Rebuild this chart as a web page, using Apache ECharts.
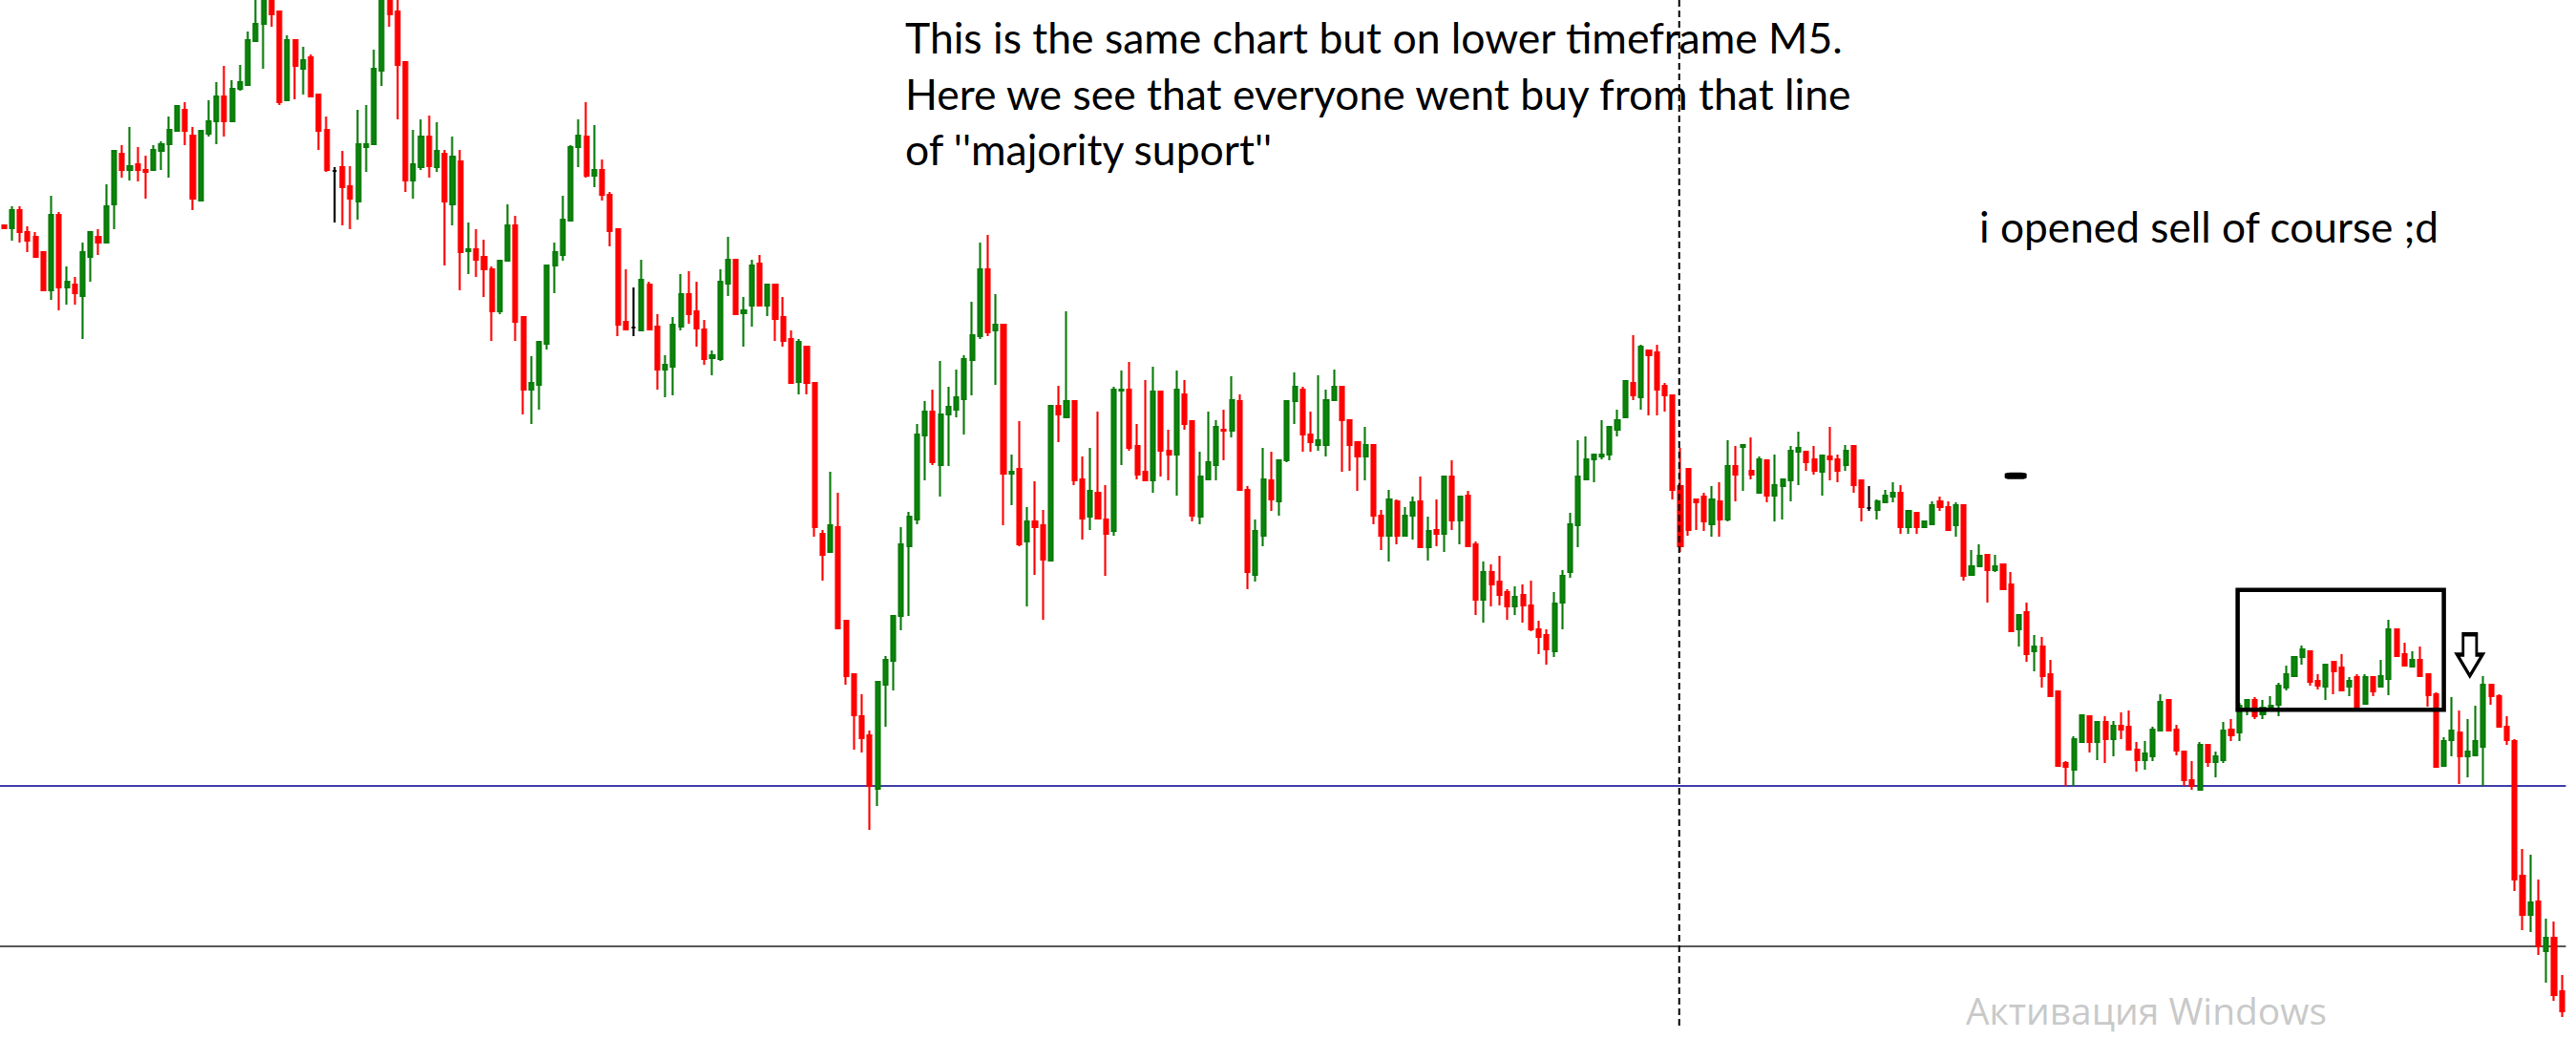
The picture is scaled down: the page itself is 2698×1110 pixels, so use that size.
<!DOCTYPE html>
<html>
<head>
<meta charset="utf-8">
<script src="https://cdn.jsdelivr.net/npm/echarts@6.0.0/dist/echarts.min.js"></script>
<style>
html,body{margin:0;padding:0;background:#ffffff;overflow:hidden}
#chart{width:2698px;height:1110px}
</style>
</head>
<body>
<div id="chart"></div>
<script>
// M5 candles: [open, close, low, high] in chart points
const ohlc = [
[874,871,870,875],[871,890,858,894],[890,867,856,894],[867,858,846,873],[862,841,840,867],[846,806,805,846],
[806,885,796,905],[885,809,785,888],[809,815,791,831],[812,803,791,820],[800,846,755,856],[841,867,815,868],
[862,856,843,870],[856,894,856,917],[896,952,870,952],[949,932,924,958],[932,936,921,977],[938,932,920,956],
[932,930,902,947],[932,953,932,958],[952,959,932,962],[959,974,924,988],[973,999,973,1000],[995,973,958,1003],
[968,902,890,977],[900,973,900,973],[970,983,967,1005],[983,1009,959,1024],[1009,983,967,1041],[983,1017,983,1026],
[1017,1024,1015,1042],[1021,1068,1021,1077],[1067,1085,1067,1112],[1085,1115,1038,1125],[1112,1095,1082,1118],[1098,1003,1000,1098],
[1005,1068,1005,1073],[1068,1041,1006,1068],[1038,1047,1011,1061],[1050,1009,1009,1053],[1011,973,953,1011],[974,932,930,988],
[931,931,877,935],[935,914,874,952],[915,902,870,936],[899,959,880,995],[956,959,930,1000],[959,1038,959,1058],
[1036,1115,1020,1130],[1114,1095,1082,1125],[1098,1042,985,1112],[1045,921,909,1045],[921,938,902,974],[935,967,932,985],
[967,936,924,989],[935,952,930,982],[949,899,832,953],[896,946,874,967],[941,846,806,953],[847,849,823,877],
[849,838,820,870],[841,828,799,859],[828,784,753,831],[784,837,781,838],[837,874,837,896],[874,773,753,884],
[778,702,676,778],[702,709,666,737],[707,752,681,753],[750,832,744,832],[832,846,803,856],[843,880,837,905],
[879,956,878,958],[956,968,935,985],[967,926,924,1003],[926,932,914,979],[932,906,900,943],[906,868,852,909],
[870,770,758,870],[773,765,765,828],[767,767,758,809],[764,817,764,838],[812,765,764,815],[768,723,702,781],
[723,728,694,738],[726,770,696,778],[768,802,764,823],[802,781,771,826],[784,766,747,815],[765,734,728,775],
[735,738,717,743],[734,815,732,828],[813,838,800,862],[838,781,781,838],[782,785,747,799],[790,832,768,838],
[834,790,790,843],[790,812,779,812],[812,776,753,812],[778,753,747,799],[755,709,709,764],[710,752,697,755],
[747,709,697,747],[709,558,548,709],[551,529,502,555],[532,560,532,616],[558,452,452,594],[460,402,393,460],
[404,361,325,404],[360,337,322,383],[340,287,241,345],[284,396,266,396],[393,419,349,423],[418,465,387,465],
[465,540,450,558],[538,569,465,574],[566,655,561,666],[654,679,607,690],[679,626,623,702],[623,676,590,732],
[676,684,622,705],[681,694,673,723],[692,734,655,738],[733,759,696,794],[758,828,755,856],[828,762,758,864],
[764,770,707,802],[770,614,560,770],[614,616,581,634],[619,540,538,669],[543,564,475,579],[564,558,508,606],
[560,524,461,576],[523,685,523,686],[685,676,647,706],[673,690,673,784],[690,607,602,690],[608,567,545,632],
[569,596,555,641],[594,567,567,679],[566,551,507,602],[554,702,549,705],[701,702,623,722],[702,641,638,731],
[643,613,608,666],[616,607,607,712],[607,700,594,726],[700,638,611,700],[638,634,607,660],[634,702,591,722],
[697,666,660,712],[669,570,564,669],[569,611,561,637],[608,626,607,679],[623,663,607,670],[660,659,628,681],
[659,691,652,716],[690,597,597,697],[597,511,493,601],[508,554,501,566],[549,608,538,641],[607,587,575,637],
[585,628,570,629],[628,690,626,691],[690,705,666,720],[702,655,637,705],[655,647,637,679],[644,649,638,717],
[644,691,632,702],[691,705,691,723],[705,670,616,705],[670,644,617,670],[647,632,596,647],[632,644,607,663],
[644,570,561,644],[570,549,534,576],[549,587,522,597],[585,549,540,587],[549,570,548,579],[570,584,545,590],
[585,537,537,611],[537,554,523,569],[555,551,538,587],[551,611,532,611],[611,565,555,628],[565,590,540,590],
[591,538,537,596],[540,482,466,543],[482,511,458,522],[511,498,475,519],[501,487,476,528],[490,475,461,493],
[475,485,466,496],[487,476,458,498],[476,451,449,502],[451,443,425,460],[445,430,414,451],[428,478,422,490],
[479,507,451,513],[511,561,505,573],[560,611,537,649],[608,629,608,653],[629,634,605,635],[632,634,629,670],
[634,663,628,663],[660,670,653,681],[673,711,673,712],[709,696,691,759],[694,747,681,749],[743,738,675,743],
[741,702,675,749],[706,696,679,709],[696,597,587,696],[601,538,532,641],[619,555,549,619],[587,584,555,587],
[590,564,554,594],[561,587,548,601],[585,566,548,605],[566,622,564,649],[622,613,585,643],[642,644,596,644],
[617,613,608,652],[594,629,594,632],[628,591,584,629],[591,602,564,634],[601,608,566,608],[607,638,585,643],
[637,641,602,658],[637,626,617,637],[629,617,613,643],[616,633,591,634],[632,629,607,663],[629,617,605,634],
[623,638,617,644],[643,602,594,643],[607,579,564,607],[578,578,575,601],[576,585,566,587],[584,591,584,597],
[590,594,584,605],[594,558,551,602],[558,575,551,576],[573,558,551,573],[558,564,557,565],[561,581,560,585],
[585,579,575,590],[579,555,555,585],[560,581,548,584],[581,507,502,581],[508,517,508,534],[517,528,516,540],
[529,513,479,529],[513,517,511,529],[519,493,493,519],[498,449,449,511],[451,466,433,466],[469,425,417,479],
[428,433,407,445],[433,402,390,443],[404,381,380,419],[386,308,307,386],[311,307,287,313],[304,336,287,339],
[333,361,333,361],[360,333,322,360],[333,354,314,354],[354,336,311,360],[336,350,318,355],[350,346,336,364],
[349,325,325,366],[325,314,302,333],[314,321,304,334],[318,346,313,349],[345,375,345,383],[377,345,345,377],
[346,324,319,351],[323,293,287,323],[293,287,283,313],[283,330,283,333],[330,312,307,330],[312,318,296,323],
[314,345,311,354],[346,340,334,357],[343,371,334,374],[370,377,361,377],[377,360,357,380],[362,369,357,377],
[370,371,369,381],[372,392,360,395],[390,404,387,413],[402,422,402,423],[422,430,414,434],[428,396,392,428],
[397,392,388,404],[391,414,377,414],[417,407,383,417],[411,387,387,425],[391,397,381,401],[401,370,370,404],
[373,401,373,404],[401,386,381,401],[391,402,391,419],[399,451,382,461],[451,423,423,451],[425,413,413,437],
[412,419,412,428],[419,402,402,433],[404,382,370,404],[383,307,307,385],[308,334,308,338],[335,345,318,380],
[343,318,289,366],[318,323,296,357],[319,334,319,371],[328,393,287,402],[393,381,372,393],[381,349,349,383],
[349,335,330,360],[334,189,177,336],[193,152,136,221],[152,165,134,215],[166,119,110,189],[114,128,81,148],
[128,68,62,145],[72,51,45,89]
];
const categories = ohlc.map((d, i) => 'M5 bar ' + (i + 1));

// drawn objects (chart points / bar positions)
const supportLevel = 287;        // blue horizontal line ("majority support")
const lowerLevel = 119;          // lower dark horizontal line
const markerBar = 212.85;        // vertical dashed line
const markerRange = [1110, 34];
const boxBars = [283.8, 310.0];  // rectangle around consolidation
const boxPrices = [366.8, 492.2];
const arrowAt = [313.3, 424];    // hollow down arrow
const dashAt = [255.6, 611.7];   // small black dash mark

const noteLines = [
  "This is the same chart but on lower timeframe M5.",
  "Here we see that everyone went buy from that line",
  "of ''majority suport''"
];
const sellNote = "i opened sell of course ;d";
const watermark = "Активация Windows";

const N = ohlc.length;
const chart = echarts.init(document.getElementById('chart'), null, {renderer: 'svg', width: 2698, height: 1110});

function fitSize(text, family, target) {
  const ctx = document.createElement('canvas').getContext('2d');
  ctx.font = '100px "' + family + '"';
  return 100 * target / ctx.measureText(text).width;
}
const noteFont = 'Lato';
const noteSize = fitSize(noteLines[0], noteFont, 983);
const sellSize = fitSize(sellNote, noteFont, 482);
const wmFont = 'Open Sans';
const wmSize = fitSize(watermark, wmFont, 378);

const baselines = [52.7, 111.3, 170.0];
const graphics = noteLines.map((t, k) => ({
  type: 'text', x: 948, y: baselines[k] - 0.32 * noteSize, silent: true, z: 100,
  style: {text: t, fontFamily: noteFont, fontSize: noteSize, fill: '#000', align: 'left', verticalAlign: 'middle'}
}));
graphics.push({
  type: 'text', x: 2073, y: 250.7 - 0.32 * sellSize, silent: true, z: 100,
  style: {text: sellNote, fontFamily: noteFont, fontSize: sellSize, fill: '#000', align: 'left', verticalAlign: 'middle'}
});
graphics.push({
  type: 'text', x: 2059, y: 1069 - 0.285 * wmSize, silent: true, z: 100,
  style: {text: watermark, fontFamily: wmFont, fontSize: wmSize, fill: '#c9c9c9', align: 'left', verticalAlign: 'middle'}
});

const xMin = -0.5, xMax = N - 0.5;
const option = {
  animation: false,
  backgroundColor: '#ffffff',
  grid: {left: -2.125, right: 2698 - (-2.125 + 8.25 * N), top: 0, bottom: 0},
  xAxis: [
    {type: 'category', data: categories, show: false, boundaryGap: true},
    {type: 'value', min: xMin, max: xMax, show: false}
  ],
  yAxis: {type: 'value', min: 0, max: 1110, show: false, splitLine: {show: false}},
  graphic: graphics,
  series: [
    {
      type: 'line', xAxisIndex: 1, silent: true, symbol: 'none', z: 1,
      data: [[xMin, supportLevel], [xMax, supportLevel]],
      lineStyle: {color: '#000090', width: 1.6}
    },
    {
      type: 'line', xAxisIndex: 1, silent: true, symbol: 'none', z: 1,
      data: [[xMin, lowerLevel], [xMax, lowerLevel]],
      lineStyle: {color: '#1e1e1e', width: 1.4}
    },
    {
      type: 'candlestick', xAxisIndex: 0, data: ohlc, barWidth: 4.6, z: 2, silent: true,
      itemStyle: {
        color: '#0c870c', color0: '#ff0000',
        borderColor: '#087a08', borderColor0: '#ff0000',
        borderColorDoji: '#000000', borderWidth: 2.1
      }
    },
    {
      type: 'line', xAxisIndex: 1, silent: true, symbol: 'none', z: 5,
      data: [[markerBar, markerRange[0]], [markerBar, markerRange[1]]],
      lineStyle: {color: '#000', width: 2, type: [7, 4]}
    },
    {
      type: 'line', xAxisIndex: 1, silent: true, symbol: 'none', z: 6,
      data: [[boxBars[0], boxPrices[1]], [boxBars[1], boxPrices[1]], [boxBars[1], boxPrices[0]],
             [boxBars[0], boxPrices[0]], [boxBars[0], boxPrices[1]]],
      lineStyle: {color: '#000', width: 4.5, join: 'miter', cap: 'square'}
    },
    {
      type: 'scatter', xAxisIndex: 1, silent: true, z: 7,
      data: [arrowAt],
      symbol: 'path://M7,0L23,0L23,23L30,23L15,47L0,23L7,23Z',
      symbolSize: [26.5, 43.5],
      itemStyle: {color: '#ffffff', borderColor: '#000', borderWidth: 3.6, opacity: 1}
    },
    {
      type: 'scatter', xAxisIndex: 1, silent: true, z: 7,
      data: [dashAt],
      symbol: 'roundRect', symbolSize: [23, 7],
      itemStyle: {color: '#000', opacity: 1}
    }
  ]
};
chart.setOption(option);
</script>
</body>
</html>
